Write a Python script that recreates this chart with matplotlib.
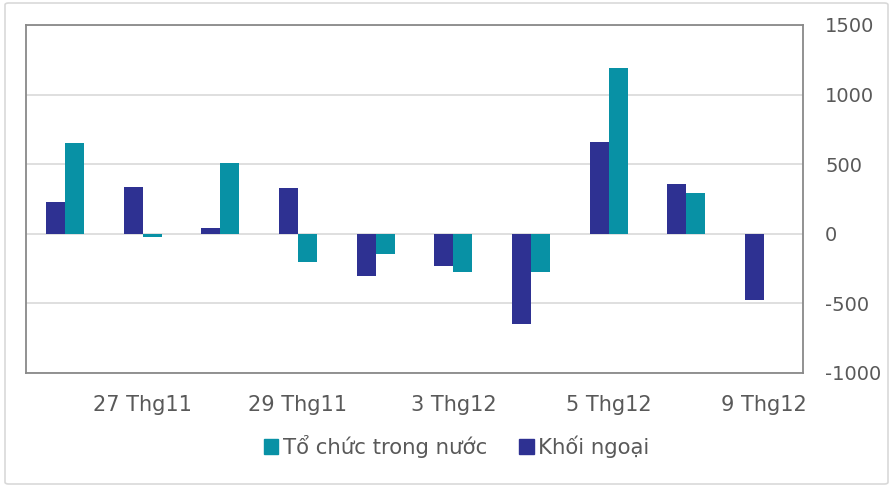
import matplotlib.pyplot as plt
from matplotlib.patches import FancyBboxPatch, Patch
import numpy as np

# data
dates = ['26 Thg11', '27 Thg11', '28 Thg11', '29 Thg11', '2 Thg12',
         '3 Thg12', '4 Thg12', '5 Thg12', '6 Thg12', '9 Thg12']
khoi_ngoai = [228, 335, 43, 328, -304, -228, -649, 663, 357, -472]
to_chuc = [651, -26, 512, -206, -146, -275, -273, 1190, 292, 0]
shown_ticks = [1, 3, 5, 7, 9]

navy = '#2E3192'
teal = '#0891A5'
txt = '#595959'

plt.rcParams['axes.unicode_minus'] = False

fig = plt.figure(figsize=(8.93, 4.87), dpi=100)
fig.patches.append(FancyBboxPatch((5 / 893, 3 / 487), 883 / 893, 481 / 487,
                                  boxstyle='round,pad=0,rounding_size=0.004',
                                  transform=fig.transFigure, fc='none',
                                  ec='#D9D9D9', lw=1.2, zorder=-1))
ax = fig.add_axes([26 / 893, 1 - 373 / 487, 777 / 893, 348 / 487])

x = np.arange(len(dates))
w = 0.245
ax.bar(x - w / 2, khoi_ngoai, w, color=navy, zorder=3)
ax.bar(x + w / 2, to_chuc, w, color=teal, zorder=3)

ax.set_xlim(-0.5, len(dates) - 0.5)
ax.set_ylim(-1000, 1500)
ax.set_yticks(range(-1000, 1501, 500))
ax.yaxis.tick_right()
ax.grid(axis='y', color='#D9D9D9', lw=1.2, zorder=0)
ax.set_xticks(shown_ticks)
ax.set_xticklabels([dates[i] for i in shown_ticks])
ax.tick_params(axis='y', length=0, pad=16, labelsize=14, labelcolor=txt)
ax.tick_params(axis='x', length=0, pad=16, labelsize=15, labelcolor=txt)
for s in ax.spines.values():
    s.set_color('#898989')
    s.set_linewidth(1.3)

handles = [Patch(color=teal, label='Tổ chức trong nước'),
           Patch(color=navy, label='Khối ngoại')]
fig.legend(handles=handles, loc='center', bbox_to_anchor=(0.511, 0.084),
           ncol=2, frameon=False, fontsize=15.3, labelcolor=txt,
           handlelength=0.7, handleheight=0.7, handletextpad=0.2,
           columnspacing=1.5)

fig.savefig('out.png', dpi=100)
